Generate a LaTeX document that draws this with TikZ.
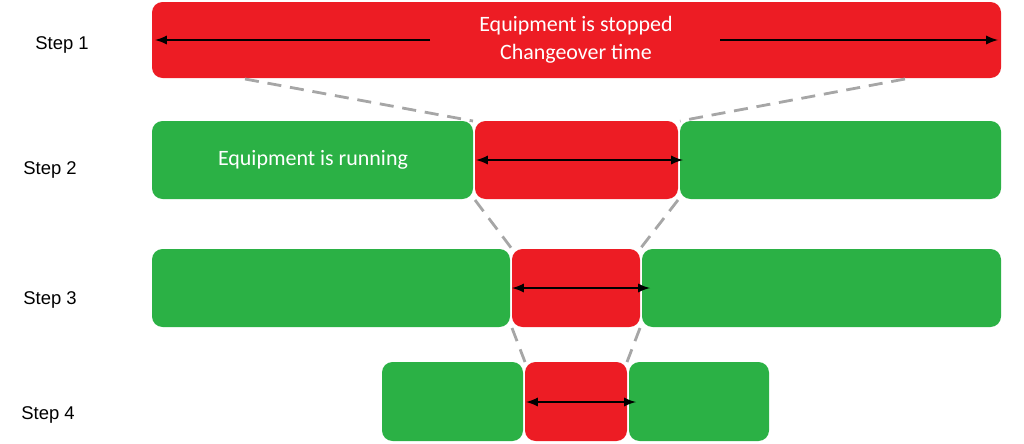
\documentclass[tikz,border=0pt]{standalone}
\usepackage{fontspec}
\setmainfont{Carlito}
\newfontfamily\labelfont{Liberation Sans}
\definecolor{stopred}{RGB}{237,28,36}
\definecolor{rungreen}{RGB}{43,177,69}
\tikzset{
  bar/.style={rounded corners=6pt, inner sep=0pt, draw=none},
  stop/.style={bar, fill=stopred},
  run/.style={bar, fill=rungreen},
  span/.style={black, line width=1.3pt, >=latex, <->},
  half/.style={black, line width=1.3pt, >=latex, ->},
  zoomline/.style={gray!70, line width=1.6pt, dash pattern=on 8pt off 5pt},
  steplabel/.style={font=\labelfont\fontsize{10.5}{12}\selectfont}
}
\begin{document}
\begin{tikzpicture}[x=0.02cm, y=-0.02cm]
  \useasboundingbox (0,0) rectangle (1024,443);
  % step labels
  \node[steplabel] (l1) at (62,45) {Step 1};
  \node[steplabel] (l2) at (50,170) {Step 2};
  \node[steplabel] (l3) at (50,300) {Step 3};
  \node[steplabel] (l4) at (48,415) {Step 4};

  % step 1
  \fill[stopred, rounded corners=6pt] (152,2) rectangle (1001,78);
  \node[white, font=\fontsize{12.5}{16}\selectfont, align=center] (t1) at (576,40)
    {Equipment is stopped\\Changeover time};
  \coordinate (a1l) at (155,40); \coordinate (a1m) at (430,40);
  \coordinate (a1n) at (720,40); \coordinate (a1r) at (998,40);
  \draw[half] (a1m) -- (a1l);
  \draw[half] (a1n) -- (a1r);

  % step 2
  \fill[rungreen, rounded corners=6pt] (152,121) rectangle (473,199);
  \fill[stopred, rounded corners=6pt] (475,121) rectangle (678,199);
  \fill[rungreen, rounded corners=6pt] (680,121) rectangle (1001,199);
  \node[white, font=\fontsize{12.5}{16}\selectfont] (t2) at (313,160) {Equipment is running};
  \coordinate (a2l) at (476,160); \coordinate (a2r) at (683,160);
  \draw[span] (a2l) -- (a2r);

  % step 3
  \fill[rungreen, rounded corners=6pt] (152,249) rectangle (510,327);
  \fill[stopred, rounded corners=6pt] (512,249) rectangle (640,327);
  \fill[rungreen, rounded corners=6pt] (642,249) rectangle (1001,327);
  \coordinate (a3l) at (512,288); \coordinate (a3r) at (650,288);
  \draw[span] (a3l) -- (a3r);

  % step 4
  \fill[rungreen, rounded corners=6pt] (382,362) rectangle (523,441);
  \fill[stopred, rounded corners=6pt] (525,362) rectangle (627,441);
  \fill[rungreen, rounded corners=6pt] (629,362) rectangle (769,441);
  \coordinate (a4l) at (526,402); \coordinate (a4r) at (636,402);
  \draw[span] (a4l) -- (a4r);

  % zoom lines
  \draw[zoomline] (245,79) -- (473,121);
  \draw[zoomline] (905,79) -- (680,121);
  \draw[zoomline] (475,200) -- (512,249);
  \draw[zoomline] (678,200) -- (640,249);
  \draw[zoomline] (512,328) -- (525,362);
  \draw[zoomline] (640,328) -- (627,362);
\end{tikzpicture}
\end{document}
